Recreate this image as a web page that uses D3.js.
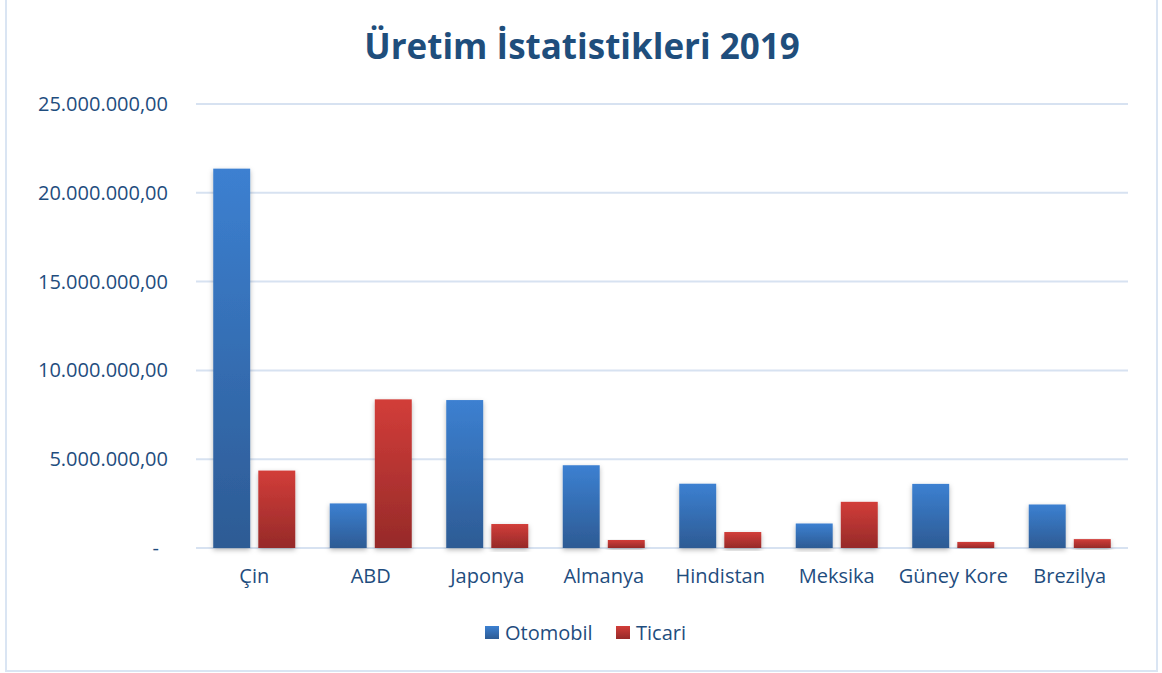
<!DOCTYPE html>
<html><head><meta charset="utf-8">
<script src="https://cdn.jsdelivr.net/npm/d3@7"></script>
<style>body{margin:0;background:#fff;}svg{display:block;font-family:"Open Sans","Noto Sans",sans-serif;}</style>
</head><body>
<script>
const categories = ["Çin","ABD","Japonya","Almanya","Hindistan","Meksika","Güney Kore","Brezilya"];
const otomobil = [21360000, 2510000, 8330000, 4660000, 3620000, 1380000, 3610000, 2450000];
const ticari = [4360000, 8370000, 1350000, 450000, 900000, 2600000, 340000, 500000];
const seriesNames = ["Otomobil","Ticari"];
const yTicks = [0, 5000000, 10000000, 15000000, 20000000, 25000000];
const title = "Üretim İstatistikleri 2019";

const W = 1162, H = 673;
const svg = d3.select("body").append("svg").attr("width", W).attr("height", H);
const defs = svg.append("defs");
const gb = defs.append("linearGradient").attr("id","gb").attr("x1",0).attr("y1",0).attr("x2",0).attr("y2",1);
gb.append("stop").attr("offset","0%").attr("stop-color","#3C80D1");
gb.append("stop").attr("offset","100%").attr("stop-color","#2D5B94");
const gr = defs.append("linearGradient").attr("id","gr").attr("x1",0).attr("y1",0).attr("x2",0).attr("y2",1);
gr.append("stop").attr("offset","0%").attr("stop-color","#D23D39");
gr.append("stop").attr("offset","100%").attr("stop-color","#962A29");
const f = defs.append("filter").attr("id","sh").attr("x","-30%").attr("y","-10%").attr("width","160%").attr("height","125%");
f.append("feDropShadow").attr("dx",0).attr("dy",2).attr("stdDeviation",2.5).attr("flood-color","#000").attr("flood-opacity",0.28);

// border
svg.append("rect").attr("x",6).attr("y",-4).attr("width",1151).attr("height",675)
  .attr("fill","none").attr("stroke","#DAE5F3").attr("stroke-width",2);

const textColor = "#1F4D7E";
svg.append("text").attr("x",582).attr("y",59).attr("text-anchor","middle")
  .attr("font-size",35).attr("font-weight","bold").attr("fill","#1F4E7C").text(title);

const x0 = d3.scaleBand().domain(categories).range([196,1128]).paddingInner(0.296).paddingOuter(0.148);
const x1 = d3.scaleBand().domain(seriesNames).range([0, x0.bandwidth()]).paddingInner(0.18);
const y = d3.scaleLinear().domain([0,25000000]).range([548,104]);

// gridlines
svg.append("g").selectAll("line").data(yTicks).join("line")
  .attr("x1",196).attr("x2",1128).attr("y1",d=>y(d)).attr("y2",d=>y(d))
  .attr("stroke","#D7E2F1").attr("stroke-width",2);

// y axis labels
const fmt = d => d === 0 ? "-" : d3.formatLocale({decimal:",",thousands:".",grouping:[3],currency:["",""]}).format(",.2f")(d);
const yAxis = d3.axisLeft(y).tickValues(yTicks).tickSize(0).tickPadding(0).tickFormat(fmt);
const ga = svg.append("g").attr("transform","translate(168,0)").call(yAxis);
ga.select(".domain").remove();
ga.selectAll("text").attr("font-size",20).attr("fill",textColor).attr("font-family","'Open Sans','Noto Sans',sans-serif");
ga.selectAll(".tick").filter(d=>d===0).select("text").attr("dx",-9);

// bars
const data = categories.map((c,i)=>({c, vals:[{s:"Otomobil",v:otomobil[i]},{s:"Ticari",v:ticari[i]}]}));
const grp = svg.append("g").selectAll("g").data(data).join("g").attr("transform",d=>`translate(${x0(d.c)},0)`);
grp.selectAll("rect").data(d=>d.vals).join("rect")
  .attr("x",d=>x1(d.s)).attr("width",x1.bandwidth())
  .attr("y",d=>y(d.v)).attr("height",d=>y(0)-y(d.v))
  .attr("fill",d=>d.s==="Otomobil"?"url(#gb)":"url(#gr)")
  .attr("filter","url(#sh)");

// x labels
const xAxis = d3.axisBottom(x0).tickSize(0).tickPadding(0);
const gx = svg.append("g").attr("transform","translate(0,569)").call(xAxis);
gx.select(".domain").remove();
gx.selectAll("text").attr("font-size",20).attr("fill",textColor).attr("font-family","'Open Sans','Noto Sans',sans-serif");

// legend
const leg = [{n:"Otomobil",fill:"url(#gb)",x:485},{n:"Ticari",fill:"url(#gr)",x:616}];
const lg = svg.append("g").selectAll("g").data(leg).join("g").attr("transform",d=>`translate(${d.x},626)`);
lg.append("rect").attr("width",14).attr("height",13).attr("fill",d=>d.fill);
lg.append("text").attr("x",20).attr("y",14).attr("font-size",20).attr("fill",textColor).text(d=>d.n);
</script>
</body></html>
